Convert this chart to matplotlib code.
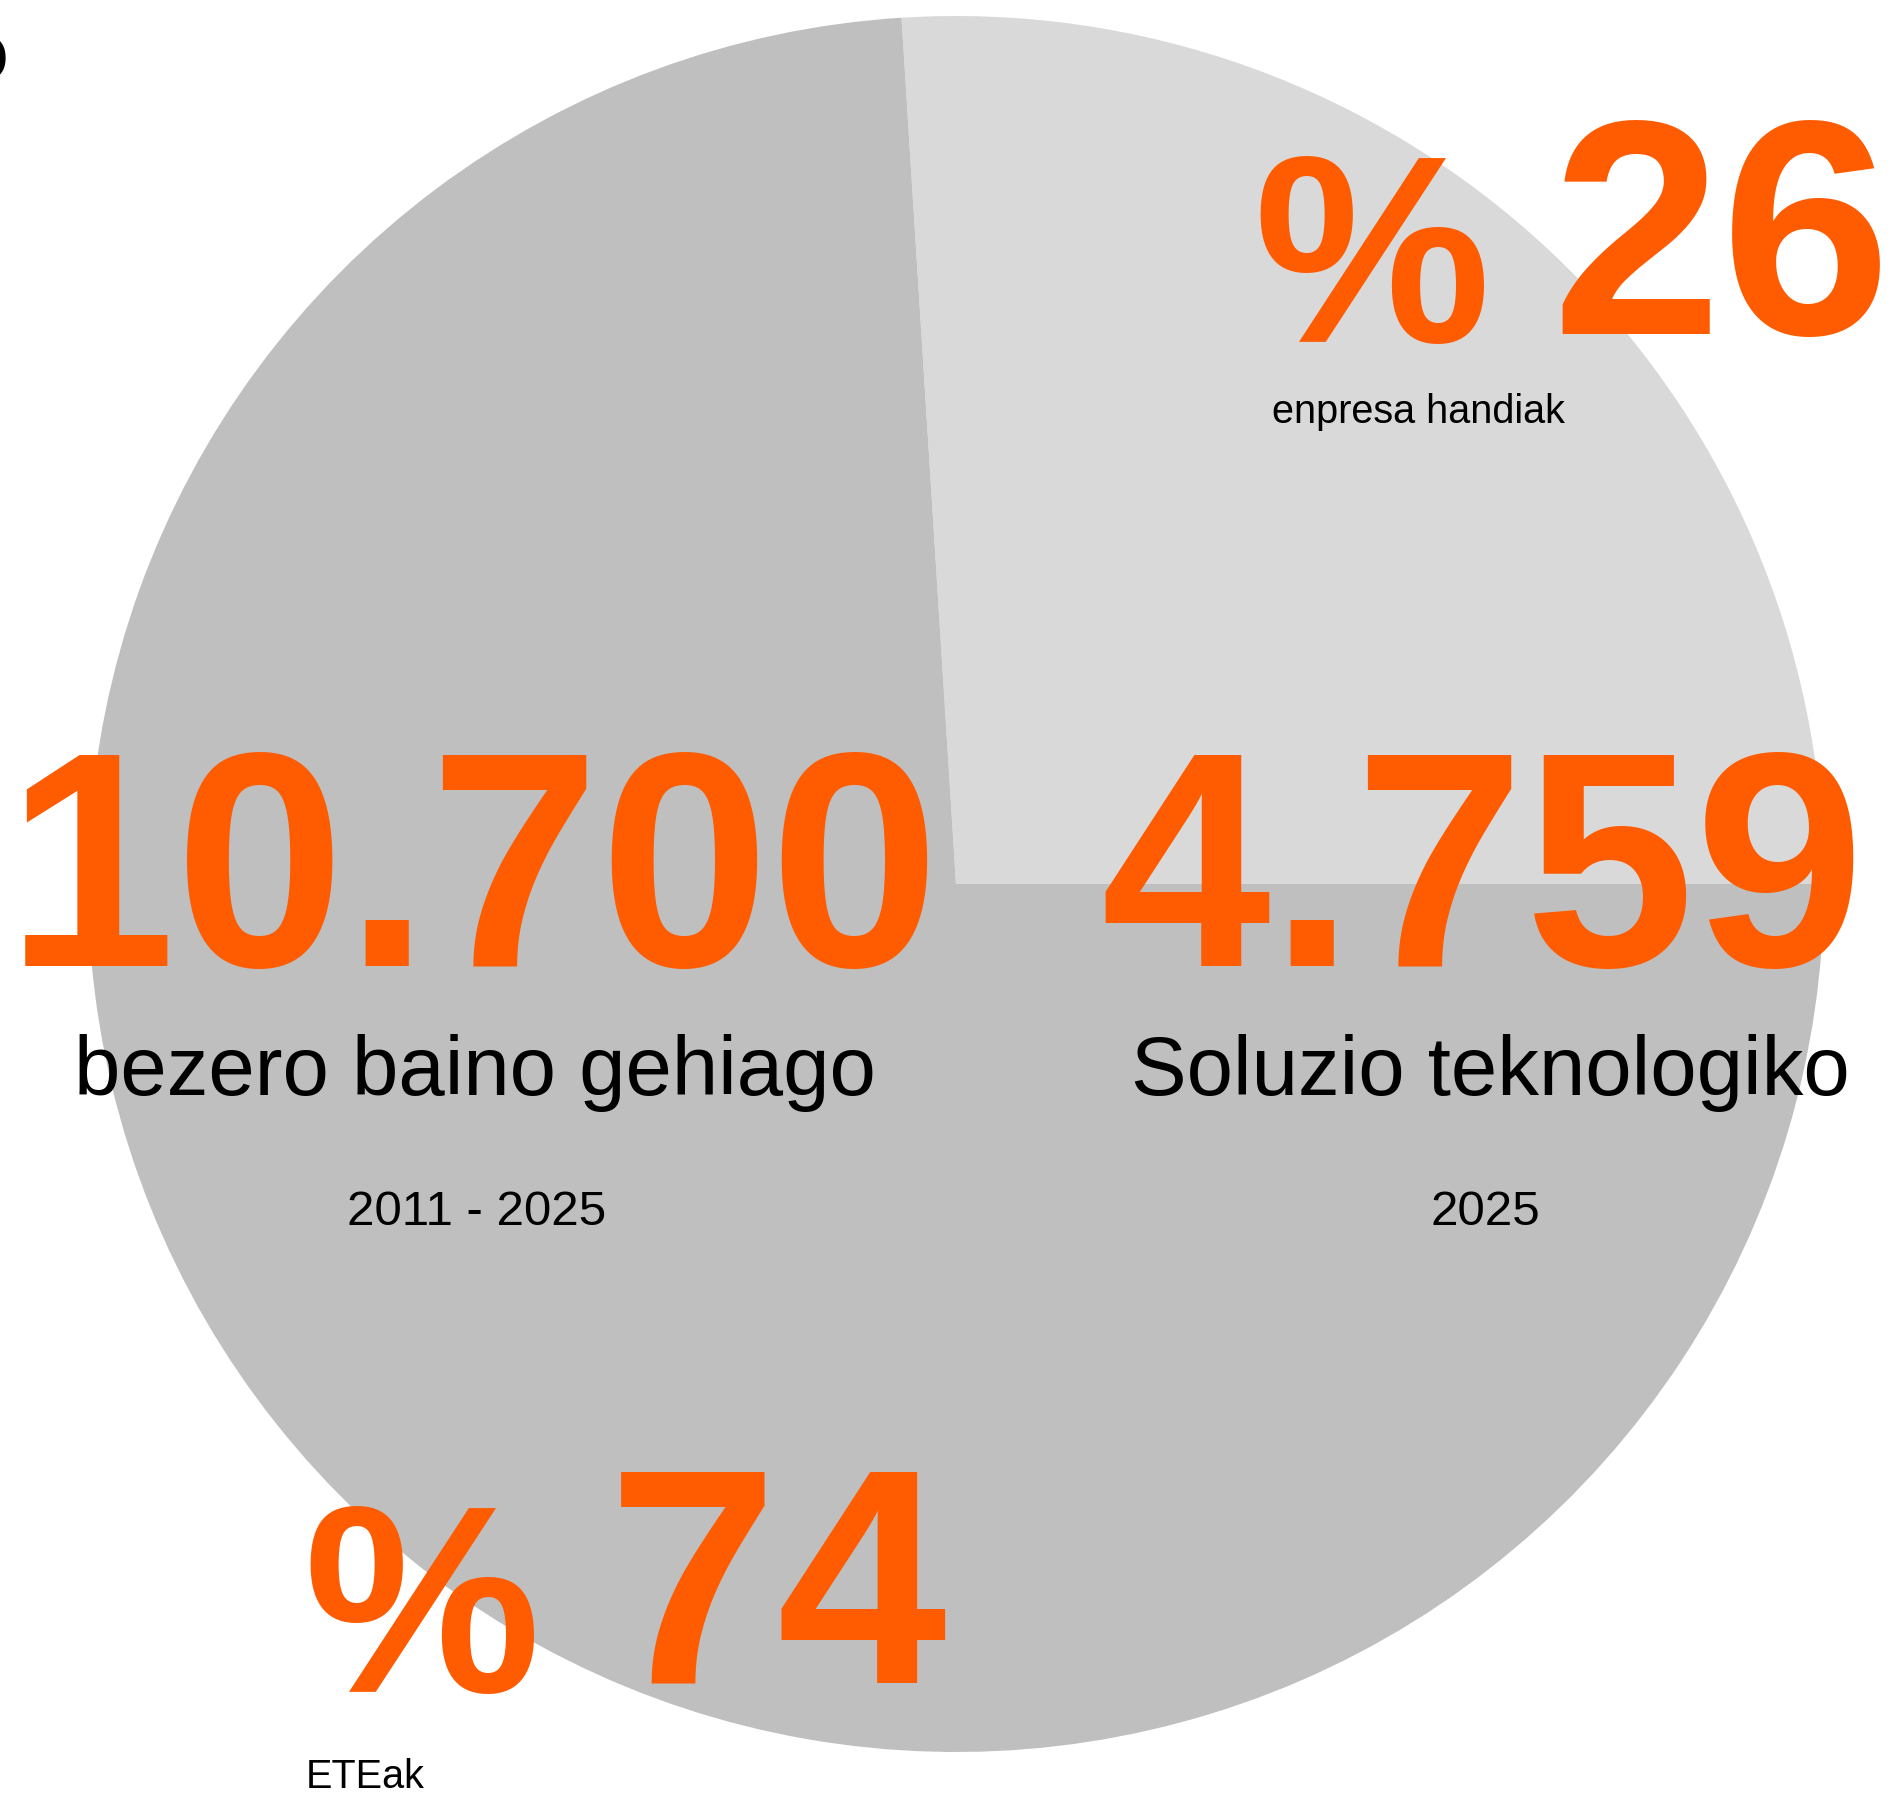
import matplotlib
matplotlib.use("Agg")
import matplotlib.pyplot as plt

# ---- data ----
segments = ["enpresa handiak", "ETEak"]
shares = [26, 74]
share_labels = ["26", "74"]
slice_colors = ["#d9d9d9", "#bfbfbf"]

big_numbers = ["10.700", "4.759"]
big_captions = ["bezero baino gehiago", "Soluzio teknologiko"]
big_periods = ["2011 - 2025", "2025"]

ORANGE = "#ff5b00"
W, H = 1898, 1794

plt.rcParams['font.family'] = ['Liberation Sans', 'DejaVu Sans']

fig = plt.figure(figsize=(W / 100, H / 100), dpi=100)
ax = fig.add_axes([0, 0, 1, 1])

def Y(y):
    return H - y

ax.pie(shares, colors=slice_colors, startangle=0, counterclock=True,
       center=(956, Y(884)), radius=868, wedgeprops=dict(linewidth=0))
ax.set_xlim(0, W)
ax.set_ylim(0, H)
ax.set_aspect('equal')
ax.axis('off')

BIG = 220
PCT = 192

# share labels
pct_pos = [(1372, 342), (422, 1692)]
num_pos = [(1721, 334), (778, 1682)]
seg_pos = [(1418, 423), (365, 1788)]
for i in range(2):
    ax.text(pct_pos[i][0], Y(pct_pos[i][1]), "%", color=ORANGE, fontsize=PCT,
            fontweight='bold', ha='center', va='baseline')
    ax.text(num_pos[i][0], Y(num_pos[i][1]), share_labels[i], color=ORANGE,
            fontsize=BIG, fontweight='bold', ha='center', va='baseline')
    ax.text(seg_pos[i][0], Y(seg_pos[i][1]), segments[i], color='black',
            fontsize=28.5, ha='center', va='baseline')

# big numbers
bn_pos = [(473, 966), (1483, 966)]
cap_pos = [(475, 1095), (1490, 1095)]
per_pos = [(477, 1225), (1485, 1225)]
for i in range(2):
    ax.text(bn_pos[i][0], Y(bn_pos[i][1]), big_numbers[i], color=ORANGE,
            fontsize=BIG, fontweight='bold', ha='center', va='baseline')
    ax.text(cap_pos[i][0], Y(cap_pos[i][1]), big_captions[i], color='black',
            fontsize=60, ha='center', va='baseline')
    ax.text(per_pos[i][0], Y(per_pos[i][1]), big_periods[i], color='black',
            fontsize=35.5, ha='center', va='baseline')

# cut-off glyph at top-left edge
ax.text(9, Y(80), "o", color='black', fontsize=60, fontweight='bold',
        ha='right', va='baseline')

fig.savefig("out.png", dpi=100)
